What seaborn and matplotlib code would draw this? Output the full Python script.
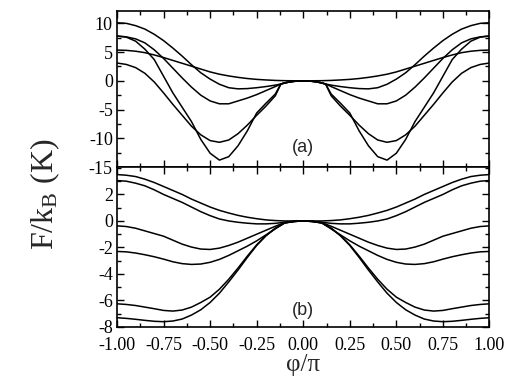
import numpy as np
import pandas as pd
import matplotlib
matplotlib.use("Agg")
import matplotlib.pyplot as plt
from matplotlib.ticker import MultipleLocator, FormatStrFormatter
import seaborn as sns

# left half of phi/pi, curves are symmetric about 0
phi_a = [-1.0, -0.95, -0.9, -0.85, -0.8, -0.75, -0.7, -0.65, -0.6, -0.55, -0.5,
         -0.45, -0.4, -0.35, -0.3, -0.25, -0.2, -0.15, -0.12, -0.09, -0.06, -0.03, 0.0]

curves_a = {
    "a1": [10.1, 10.0, 9.6, 9.0, 8.1, 7.0, 5.7, 4.3, 2.8, 1.4, 0.3,
           -0.6, -1.2, -1.4, -1.35, -1.2, -1.0, -0.75, -0.55, -0.3, -0.13, -0.03, 0.0],
    "a2": [5.35, 5.3, 5.15, 4.9, 4.5, 4.05, 3.55, 3.05, 2.55, 2.05, 1.55,
           1.15, 0.85, 0.6, 0.4, 0.25, 0.15, 0.07, 0.04, 0.02, 0.01, 0.0, 0.0],
    "a3": [7.8, 7.65, 7.3, 6.6, 5.4, 3.9, 2.2, 0.5, -1.1, -2.5, -3.5,
           -4.0, -4.0, -3.5, -3.0, -2.4, -1.7, -1.0, -0.55, -0.3, -0.13, -0.03, 0.0],
    "a4": [3.1, 2.85, 2.3, 1.3, -0.2, -2.1, -4.1, -6.0, -7.9, -9.4, -10.4,
           -10.7, -10.3, -9.2, -7.7, -6.0, -4.4, -2.6, -0.55, -0.3, -0.13, -0.03, 0.0],
    "a5": [7.8, 7.6, 6.9, 5.5, 3.7, 0.8, -2.1, -4.6, -7.1, -10.2, -12.6,
           -13.8, -13.2, -11.3, -8.7, -5.6, -3.9, -2.3, -0.55, -0.3, -0.13, -0.03, 0.0],
}

phi_b = [-1.0, -0.95, -0.9, -0.85, -0.8, -0.75, -0.7, -0.65, -0.6, -0.55, -0.5,
         -0.45, -0.4, -0.35, -0.3, -0.25, -0.2, -0.15, -0.1, -0.05, 0.0]

curves_b = {
    "b1": [3.5, 3.45, 3.35, 3.15, 2.9, 2.6, 2.3, 2.0, 1.65, 1.35, 1.05,
           0.8, 0.6, 0.42, 0.28, 0.17, 0.08, 0.03, 0.0, 0.0, 0.0],
    "b2": [3.05, 3.0, 2.85, 2.65, 2.35, 2.0, 1.7, 1.4, 1.05, 0.7, 0.4,
           0.15, 0.0, -0.1, -0.17, -0.22, -0.22, -0.18, -0.1, -0.03, 0.0],
    "b3": [-0.37, -0.42, -0.55, -0.75, -0.95, -1.15, -1.45, -1.75, -1.97, -2.12, -2.15,
           -2.05, -1.85, -1.6, -1.3, -1.0, -0.7, -0.4, -0.12, -0.03, 0.0],
    "b4": [-2.3, -2.33, -2.42, -2.55, -2.7, -2.88, -3.08, -3.22, -3.28, -3.25, -3.12,
           -2.9, -2.6, -2.25, -1.9, -1.5, -1.05, -0.6, -0.15, -0.04, 0.0],
    "b5": [-6.25, -6.3, -6.38, -6.5, -6.62, -6.75, -6.8, -6.72, -6.5, -6.15, -5.75,
           -5.15, -4.4, -3.55, -2.65, -1.8, -1.1, -0.55, -0.15, -0.04, 0.0],
    "b6": [-7.3, -7.35, -7.42, -7.5, -7.57, -7.6, -7.55, -7.4, -7.1, -6.7, -6.15,
           -5.45, -4.6, -3.7, -2.75, -1.85, -1.12, -0.55, -0.15, -0.04, 0.0],
}


def mirrored(phi, vals):
    phi = np.asarray(phi)
    vals = np.asarray(vals)
    x = np.concatenate([phi, -phi[::-1][1:]])
    y = np.concatenate([vals, vals[::-1][1:]])
    return x, y


def to_frame(phi, curves):
    rows = []
    for name, vals in curves.items():
        x, y = mirrored(phi, vals)
        rows.append(pd.DataFrame({"phi": x, "F": y, "curve": name}))
    return pd.concat(rows, ignore_index=True)


sns.set_theme(style="ticks")
plt.rcParams["font.family"] = ["Liberation Serif", "DejaVu Serif"]
plt.rcParams["mathtext.fontset"] = "custom"
plt.rcParams["mathtext.rm"] = "Liberation Serif"
plt.rcParams["mathtext.it"] = "Liberation Serif:italic"
plt.rcParams["axes.unicode_minus"] = False

fig = plt.figure(figsize=(5.12, 3.8), dpi=100)
ax_a = fig.add_axes([0.2285, 0.5605, 0.7275, 0.4113])
ax_b = fig.add_axes([0.2285, 0.1395, 0.7275, 0.4210])

df_a = to_frame(phi_a, curves_a)
df_b = to_frame(phi_b, curves_b)

for ax, df in [(ax_a, df_a), (ax_b, df_b)]:
    sns.lineplot(data=df, x="phi", y="F", units="curve", estimator=None,
                 color="black", linewidth=1.1, sort=False, legend=False, ax=ax)
    ax.set_xlim(-1.0, 1.0)
    ax.xaxis.set_major_locator(MultipleLocator(0.25))
    ax.xaxis.set_minor_locator(MultipleLocator(0.125))
    ax.tick_params(which="both", direction="in", top=True, right=True,
                   labelsize=13, width=1.0, colors="black")
    ax.tick_params(which="major", length=5, pad=3)
    ax.tick_params(which="minor", length=3)
    ax.tick_params(axis="x", pad=7)
    ax.set_xlabel("")
    ax.set_ylabel("")
    for sp in ax.spines.values():
        sp.set_linewidth(1.2)
        sp.set_color("black")

ax_a.set_ylim(-15, 12.2)
ax_a.yaxis.set_major_locator(MultipleLocator(5))
ax_a.yaxis.set_minor_locator(MultipleLocator(2.5))
ax_a.tick_params(labelbottom=False)
ax_a.text(0.0, -11.6, "(a)", family="Liberation Sans", fontsize=13,
          ha="center", va="center")

ax_b.set_ylim(-8, 4.07)
ax_b.yaxis.set_major_locator(MultipleLocator(2))
ax_b.yaxis.set_minor_locator(MultipleLocator(1))
ax_b.set_yticks([-8, -6, -4, -2, 0, 2])
ax_b.xaxis.set_major_formatter(FormatStrFormatter("%.2f"))
ax_b.text(0.0, -6.75, "(b)", family="Liberation Sans", fontsize=13,
          ha="center", va="center")

ax_b.set_xlabel("φ/π", fontsize=18, labelpad=0)
fig.text(0.088, 0.49, r"F/k$_\mathrm{B}$ (K)", rotation=90, fontsize=23,
         ha="center", va="center")

fig.savefig("out.png", dpi=100)
